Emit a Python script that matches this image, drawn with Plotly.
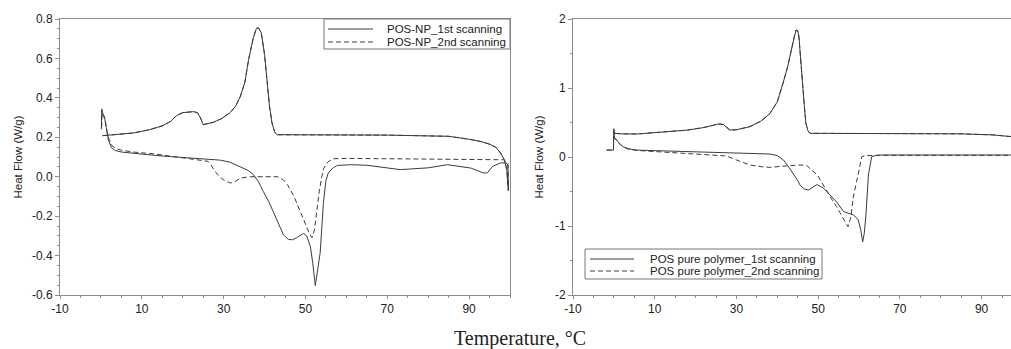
import plotly.graph_objects as go

# ---------------- Left panel: POS-NP ----------------
np_cool_T = [0.3, 1, 4, 8, 12, 15, 17, 18.5, 20, 22.6, 23.6, 24.3, 25.0, 26, 27.5, 29.5, 31.6, 33, 34.1, 35.2,
             36.1, 37.2, 38.0, 38.5, 39.2, 40, 40.6, 41.2, 41.8, 42.5, 43.1, 50, 70, 85, 90, 93, 95, 96.5,
             97.7, 98.6, 99.2, 99.6]
np_cool_Q = [0.208, 0.21, 0.214, 0.222, 0.239, 0.258, 0.28, 0.31, 0.325, 0.33, 0.325, 0.30, 0.264, 0.267, 0.276,
             0.295, 0.325, 0.36, 0.408, 0.48, 0.594, 0.70, 0.752, 0.755, 0.73, 0.62, 0.477, 0.36, 0.274, 0.225,
             0.213, 0.212, 0.211, 0.205, 0.19, 0.178, 0.165, 0.15, 0.12, 0.086, 0.04, -0.07]

np_heat1_T = [0.1, 0.2, 0.5, 0.85, 1.3, 1.8, 2.6, 3.5, 5.1, 8, 13.3, 17, 21.3, 24.3, 27.1, 29.2, 31.5, 34.1, 36,
              37.3, 38.5, 39.7, 41, 42.1, 43.3, 44.6, 45.8, 46.8, 47.8, 48.8, 49.5, 50.3, 51.2, 51.8, 52.4, 53.0,
              53.6, 54.4, 55.0, 55.6, 56.8, 57.8, 61, 65, 73.2, 80, 84.7, 90.4, 92.8, 93.5, 94.5, 95.7, 97.7,
              99.0, 99.5]
np_heat1_Q = [0.24, 0.344, 0.32, 0.306, 0.25, 0.188, 0.146, 0.133, 0.125, 0.118, 0.108, 0.102, 0.095, 0.092,
              0.087, 0.084, 0.074, 0.052, 0.032, 0.01, -0.025, -0.075, -0.125, -0.176, -0.235, -0.294, -0.318,
              -0.32, -0.31, -0.296, -0.288, -0.30, -0.354, -0.44, -0.552, -0.47, -0.386, -0.13, -0.02, 0.02,
              0.046, 0.057, 0.061, 0.058, 0.036, 0.045, 0.061, 0.044, 0.027, 0.019, 0.02, 0.052, 0.07, 0.07, 0.06]

np_heat2_T = [0.2, 0.3, 0.6, 1.0, 1.5, 2.0, 2.8, 3.8, 5.1, 8, 13.3, 17, 21.3, 24.5, 26.2, 26.9, 27.9, 29.0,
              29.9, 31.6, 32.8, 34.1, 36.5, 40, 43.1, 44.5, 45.6, 47.2, 48.8, 50.2, 51.0, 51.6, 52.2, 52.8,
              53.4, 54.0, 54.4, 55.5, 56.8, 60, 70, 80, 90, 95, 98.4, 99.5]
np_heat2_Q = [0.25, 0.325, 0.31, 0.29, 0.23, 0.19, 0.155, 0.142, 0.134, 0.125, 0.115, 0.105, 0.094, 0.085,
              0.078, 0.06, 0.027, 0.0, -0.015, -0.032, -0.025, -0.007, 0.0, 0.0, 0.0, -0.015, -0.04, -0.10,
              -0.176, -0.25, -0.29, -0.31, -0.27, -0.167, -0.07, 0.0, 0.04, 0.075, 0.091, 0.093, 0.092, 0.09,
              0.088, 0.087, 0.086, 0.07]

# ---------------- Right panel: POS pure polymer ----------------
pp_cool_T = [0.0, 2, 5.6, 10, 13.7, 18, 21.8, 24, 25.2, 26.0, 26.8, 27.6, 28.4, 30, 33.3, 36, 38.2, 40, 41.4,
             42.5, 43.5, 44.2, 44.6, 45.0, 45.3, 45.8, 46.2, 46.6, 47.0, 47.5, 48.0, 50, 70, 84.7, 92.8, 97.5, 100]
pp_cool_Q = [0.343, 0.335, 0.333, 0.35, 0.367, 0.39, 0.425, 0.455, 0.475, 0.478, 0.47, 0.43, 0.39, 0.395, 0.44,
             0.52, 0.63, 0.80, 1.07, 1.30, 1.55, 1.75, 1.84, 1.83, 1.74, 1.45, 1.07, 0.75, 0.49, 0.38, 0.343,
             0.338, 0.338, 0.336, 0.32, 0.295, 0.28]

pp_heat1_T = [-1.8, -0.1, 0.0, 0.15, 0.4, 1.0, 2.2, 3.5, 5.6, 13.7, 20, 27.6, 33, 38.2, 40.0, 41.5, 42.5, 43.9,
              45.0, 45.6, 46.5, 47.6, 48.6, 49.7, 51.3, 52.9, 54.5, 56.2, 57.8, 58.6, 59.4, 59.8, 60.4, 60.9,
              61.3, 61.7, 62.3, 63.1, 64, 65.2, 80, 100]
pp_heat1_Q = [0.10, 0.10, 0.41, 0.28, 0.27, 0.22, 0.15, 0.12, 0.10, 0.087, 0.075, 0.062, 0.055, 0.043, 0.02,
              -0.043, -0.12, -0.24, -0.34, -0.41, -0.46, -0.48, -0.44, -0.40, -0.45, -0.55, -0.65, -0.79, -0.82,
              -0.84, -0.88, -0.91, -1.05, -1.23, -1.10, -0.84, -0.26, 0.005, 0.02, 0.029, 0.029, 0.029]

pp_heat2_T = [-1.8, -0.1, 0.0, 0.15, 0.4, 1.0, 2.2, 3.5, 5.6, 13.7, 20, 27.6, 30, 33.3, 36, 38.2, 41, 43.9,
              45.5, 47.2, 48.0, 49.8, 51.3, 53.0, 54.5, 55.8, 57.0, 57.3, 58.0, 58.6, 59.4, 60.0, 60.7, 61.5,
              63, 65, 80, 100]
pp_heat2_Q = [0.10, 0.10, 0.38, 0.27, 0.26, 0.21, 0.15, 0.115, 0.095, 0.062, 0.04, 0.015, -0.043, -0.116,
              -0.14, -0.15, -0.135, -0.116, -0.116, -0.12, -0.17, -0.26, -0.42, -0.58, -0.72, -0.86, -0.99,
              -1.01, -0.87, -0.58, -0.36, -0.19, 0.005, 0.02, 0.025, 0.025, 0.025, 0.025]

# ---------------- Tick labels ----------------
x_tickvals = [-10, 10, 30, 50, 70, 90]
x_ticktext = ["-10", "10", "30", "50", "70", "90"]
left_y_tickvals = [0.8, 0.6, 0.4, 0.2, 0.0, -0.2, -0.4, -0.6]
left_y_ticktext = ["0.8", "0.6", "0.4", "0.2", "0.0", "-0.2", "-0.4", "-0.6"]
right_y_tickvals = [2, 1, 0, -1, -2]
right_y_ticktext = ["2", "1", "0", "-1", "-2"]

names_np = ["POS-NP_1st scanning", "POS-NP_2nd scanning"]
names_pp = ["POS pure polymer_1st scanning", "POS pure polymer_2nd scanning"]

LINE = "#3c3c3c"
AX = "#8c8c8c"
FONT = "Liberation Sans, Arial, sans-serif"
DASH = "5px,3px"

# figure geometry (pixels) used to place the hand-drawn legend boxes
W, H = 1011, 349
ML, MR, MT, MB = 60, 0, 19, 54
PW, PH = W - ML - MR, H - MT - MB


def px(xp):
    return (xp - ML) / PW


def py(yp):
    return (H - MB - yp) / PH


def loop(hT, hQ, cT, cQ):
    return hT + cT[::-1], hQ + cQ[::-1]


fig = go.Figure()

x, y = loop(np_heat1_T, np_heat1_Q, np_cool_T, np_cool_Q)
fig.add_trace(go.Scatter(x=x, y=y, mode="lines", name=names_np[0], line=dict(color=LINE, width=1),
                         xaxis="x", yaxis="y", showlegend=False))
x, y = loop(np_heat2_T, np_heat2_Q, np_cool_T, np_cool_Q)
fig.add_trace(go.Scatter(x=x, y=y, mode="lines", name=names_np[1], line=dict(color=LINE, width=1, dash=DASH),
                         xaxis="x", yaxis="y", showlegend=False))
x, y = loop(pp_heat1_T, pp_heat1_Q, pp_cool_T, pp_cool_Q)
fig.add_trace(go.Scatter(x=x, y=y, mode="lines", name=names_pp[0], line=dict(color=LINE, width=1),
                         xaxis="x2", yaxis="y2", showlegend=False))
x, y = loop(pp_heat2_T, pp_heat2_Q, pp_cool_T, pp_cool_Q)
fig.add_trace(go.Scatter(x=x, y=y, mode="lines", name=names_pp[1], line=dict(color=LINE, width=1, dash=DASH),
                         xaxis="x2", yaxis="y2", showlegend=False))

# legend boxes: (box left, box top, box right, box bottom, sample x0, sample x1, text x, row ys, names)
legends = [
    (324, 19, 510, 49, 328, 373, 385, (29, 42), names_np),
    (585, 249, 822, 279, 590, 634, 648, (259, 271), names_pp),
]
shapes = []
annotations = []
for (bx0, by0, bx1, by1, sx0, sx1, tx, rows, names) in legends:
    shapes.append(dict(type="rect", xref="paper", yref="paper", x0=px(bx0), x1=px(bx1), y0=py(by1), y1=py(by0),
                       line=dict(color="#777", width=1), fillcolor="white", layer="above"))
    for i, (ry, nm) in enumerate(zip(rows, names)):
        shapes.append(dict(type="line", xref="paper", yref="paper", x0=px(sx0), x1=px(sx1), y0=py(ry), y1=py(ry),
                           line=dict(color=LINE, width=1, dash="solid" if i == 0 else DASH), layer="above"))
        annotations.append(dict(text=nm, xref="paper", yref="paper", x=px(tx), y=py(ry), xanchor="left",
                                yanchor="middle", showarrow=False,
                                font=dict(family=FONT, size=11.5, color="#222")))

annotations.append(dict(text="Temperature, °C", xref="paper", yref="paper", x=px(520), y=py(338),
                        xanchor="center", yanchor="middle", showarrow=False,
                        font=dict(family="Liberation Serif, Times New Roman, serif", size=20, color="#222")))

xcommon = dict(showline=True, linecolor=AX, linewidth=1, mirror=True, showgrid=False, zeroline=False,
               ticks="outside", ticklen=3, tickcolor=AX, tickmode="array", tickvals=x_tickvals,
               ticktext=x_ticktext, tickfont=dict(family=FONT, size=12, color="#222"),
               minor=dict(tick0=-10, dtick=5, ticks="outside", ticklen=2, tickcolor=AX))
ycommon = dict(showline=True, linecolor=AX, linewidth=1, mirror=True, showgrid=False, zeroline=False,
               ticks="outside", ticklen=4, tickcolor=AX, tickmode="array",
               tickfont=dict(family=FONT, size=12, color="#222"))

fig.update_layout(
    width=W, height=H,
    margin=dict(l=ML, r=MR, t=MT, b=MB),
    paper_bgcolor="white", plot_bgcolor="white",
    font=dict(family=FONT, size=11, color="#222"),
    showlegend=False,
    xaxis=dict(xcommon, domain=[0, px(510)], range=[-10, 100], anchor="y"),
    xaxis2=dict(xcommon, domain=[px(573), 1.0], range=[-10, 97.2], anchor="y2"),
    yaxis=dict(ycommon, range=[-0.6, 0.8], anchor="x", tickvals=left_y_tickvals, ticktext=left_y_ticktext,
               minor=dict(tick0=0, dtick=0.05, ticks="outside", ticklen=2, tickcolor=AX),
               title=dict(text="Heat Flow (W/g)", font=dict(family=FONT, size=11.5, color="#222"), standoff=6)),
    yaxis2=dict(ycommon, range=[-2, 2], anchor="x2", tickvals=right_y_tickvals, ticktext=right_y_ticktext,
                minor=dict(tick0=0, dtick=0.5, ticks="outside", ticklen=2, tickcolor=AX),
                title=dict(text="Heat Flow (W/g)", font=dict(family=FONT, size=11.5, color="#222"), standoff=8)),
    shapes=shapes,
    annotations=annotations,
)

fig.write_html("out.html")
